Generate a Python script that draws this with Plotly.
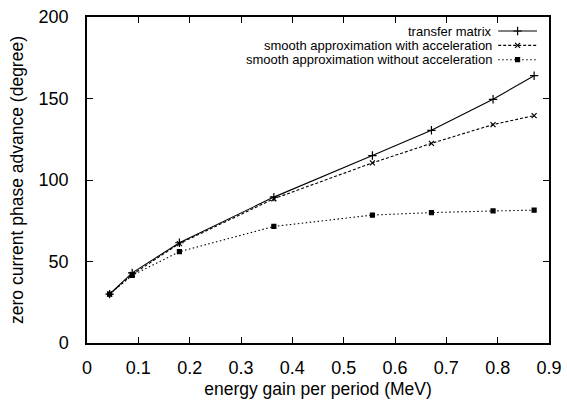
import plotly.graph_objects as go

energy = [0.044, 0.088, 0.180, 0.364, 0.556, 0.671, 0.791, 0.871]
transfer = [30, 43, 61.5, 89.5, 115, 130.5, 149.5, 164]
with_acc = [30, 42, 61, 88.5, 110.5, 122.5, 134, 139.5]
without_acc = [30, 41.5, 56, 71.5, 78.5, 80, 81, 81.5]

names = ["transfer matrix",
         "smooth approximation with acceleration",
         "smooth approximation without acceleration"]
series = [transfer, with_acc, without_acc]
dashes = ["solid", "3px,2px", "1.5px,2.5px"]
symbols = ["cross-thin", "x-thin", "square"]
msizes = [6, 5, 4]

xticks = [0, 0.1, 0.2, 0.3, 0.4, 0.5, 0.6, 0.7, 0.8, 0.9]
yticks = [0, 50, 100, 150, 200]

FONT = "Liberation Sans, Arial"

fig = go.Figure()
for name, ys, d, s, ms in zip(names, series, dashes, symbols, msizes):
    fig.add_trace(go.Scatter(
        x=energy, y=ys, name=name, mode="lines+markers",
        line=dict(color="black", width=1.1, dash=d),
        marker=dict(symbol=s, size=ms, color="black",
                    line=dict(color="black", width=1.2)),
        showlegend=False))

# custom legend (text right-aligned, sample to the right) in paper-like axes
leg_y = [0.957, 0.913, 0.869]
for name, d, s, ms, yy in zip(names, dashes, symbols, msizes, leg_y):
    fig.add_trace(go.Scatter(
        x=[0.890, 0.974], y=[yy, yy], mode="lines", xaxis="x2", yaxis="y2",
        line=dict(color="black", width=1.1, dash=d), showlegend=False,
        hoverinfo="skip"))
    fig.add_trace(go.Scatter(
        x=[0.932], y=[yy], mode="markers", xaxis="x2", yaxis="y2",
        marker=dict(symbol=s, size=ms, color="black",
                    line=dict(color="black", width=1.2)),
        showlegend=False, hoverinfo="skip"))
    fig.add_annotation(x=0.879, y=yy, xref="x2", yref="y2", text=name,
                       showarrow=False, xanchor="right", yanchor="middle",
                       borderpad=0,
                       font=dict(size=13, color="black", family=FONT))

axis_common = dict(showgrid=False, zeroline=False, showline=True,
                   linecolor="black", linewidth=1.5, mirror="ticks",
                   ticks="inside", ticklen=6, tickwidth=1, tickcolor="black",
                   automargin=False,
                   tickfont=dict(size=18, color="black", family=FONT))

fig.update_layout(
    width=567, height=400,
    margin=dict(l=87, r=18, t=17, b=57),
    paper_bgcolor="white", plot_bgcolor="white",
    xaxis=dict(range=[0, 0.9], tickvals=xticks,
               ticktext=[f"{v:g}" for v in xticks],
               ticklabelstandoff=8,
               title=dict(text="energy gain per period (MeV)", standoff=5,
                          font=dict(size=17.5, color="black", family=FONT)),
               **axis_common),
    yaxis=dict(range=[0, 200], tickvals=yticks,
               ticklabelstandoff=13,
               title=dict(text="zero current phase advance (degree)", standoff=10,
                          font=dict(size=17.5, color="black", family=FONT)),
               **axis_common),
    xaxis2=dict(range=[0, 1], overlaying="x", visible=False, anchor="y2"),
    yaxis2=dict(range=[0, 1], overlaying="y", visible=False, anchor="x2"),
)

fig.write_html("out.html")
